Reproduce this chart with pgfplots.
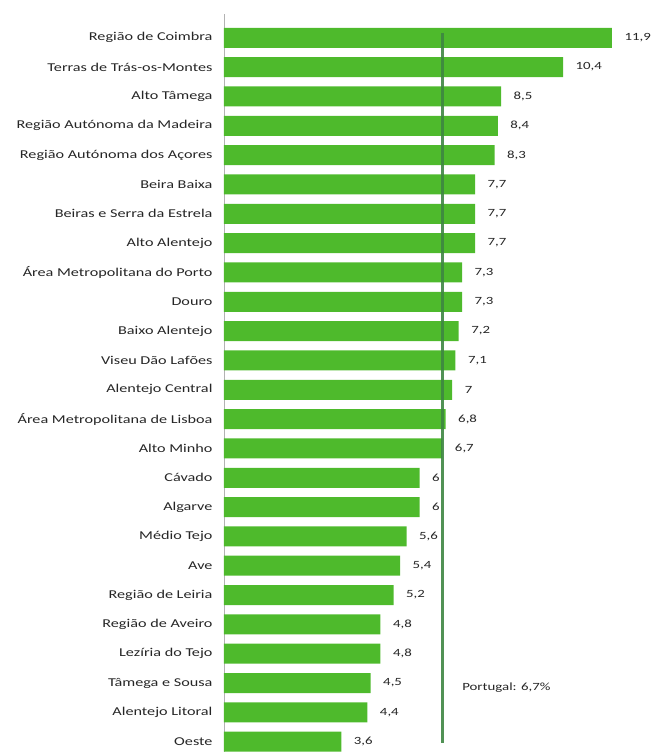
\documentclass[border=0pt]{standalone}
\usepackage{pgfplots}
\pgfplotsset{compat=1.18}
\usepackage{pgfplotstable}
\usepackage{fontspec}
\setmainfont[FakeStretch=1.35]{Carlito}
\definecolor{bargreen}{RGB}{78,186,44}
\definecolor{ptgreen}{RGB}{62,134,66}
\pgfplotstableread{
y v
0 11.9
1 10.4
2 8.5
3 8.4
4 8.3
5 7.7
6 7.7
7 7.7
8 7.3
9 7.3
10 7.2
11 7.1
12 7.0
13 6.8
14 6.7
15 6.0
16 6.0
17 5.6
18 5.4
19 5.2
20 4.8
21 4.8
22 4.5
23 4.4
24 3.6
}\datatable
\begin{document}
\begin{tikzpicture}
\begin{axis}[
  scale only axis,
  width=410.8pt, height=737.7pt,
  xmin=0, xmax=12.6,
  ymin=-0.8, ymax=24.35,
  y dir=reverse,
  axis x line=none,
  axis y line*=left,
  y axis line style={draw=gray!60, line width=0.8pt},
  major tick length=0pt,
  ytick={0,...,24},
  yticklabels={Região de Coimbra, Terras de Trás-os-Montes, Alto Tâmega, Região Autónoma da Madeira, Região Autónoma dos Açores, Beira Baixa, Beiras e Serra da Estrela, Alto Alentejo, Área Metropolitana do Porto, Douro, Baixo Alentejo, Viseu Dão Lafões, Alentejo Central, Área Metropolitana de Lisboa, Alto Minho, Cávado, Algarve, Médio Tejo, Ave, Região de Leiria, Região de Aveiro, Lezíria do Tejo, Tâmega e Sousa, Alentejo Litoral, Oeste},
  yticklabel style={font=\fontsize{12}{14}\selectfont, text=black!85, xshift=-8pt},
  /pgf/number format/assume math mode=true,
  /pgf/number format/use comma,
  xbar,
  bar width=20pt,
  clip=false,
]
\addplot[fill=bargreen, draw=none, point meta=x,
  nodes near coords,
  every node near coord/.append style={anchor=west, xshift=9pt, font=\fontsize{11}{13}\selectfont, text=black!85}]
  table[x=v, y=y] {\datatable};
\end{axis}
\begin{axis}[
  scale only axis,
  width=410.8pt, height=737.7pt,
  xmin=0, xmax=12.6,
  ymin=-0.8, ymax=24.35,
  y dir=reverse,
  hide axis,
  clip=false,
]
\addplot[color=ptgreen, line width=2.6pt, opacity=0.9] coordinates {(6.7,-0.17) (6.7,24.03)};
\node[anchor=west, font=\fontsize{11}{13}\selectfont, text=black!85] at (axis cs:7.2,22.15) {Portugal: 6,7\%};
\end{axis}
\pgfresetboundingbox
\path[use as bounding box] (current axis.south west) ++(-224pt,0pt) rectangle ++(657pt,752pt);
\end{tikzpicture}
\end{document}
